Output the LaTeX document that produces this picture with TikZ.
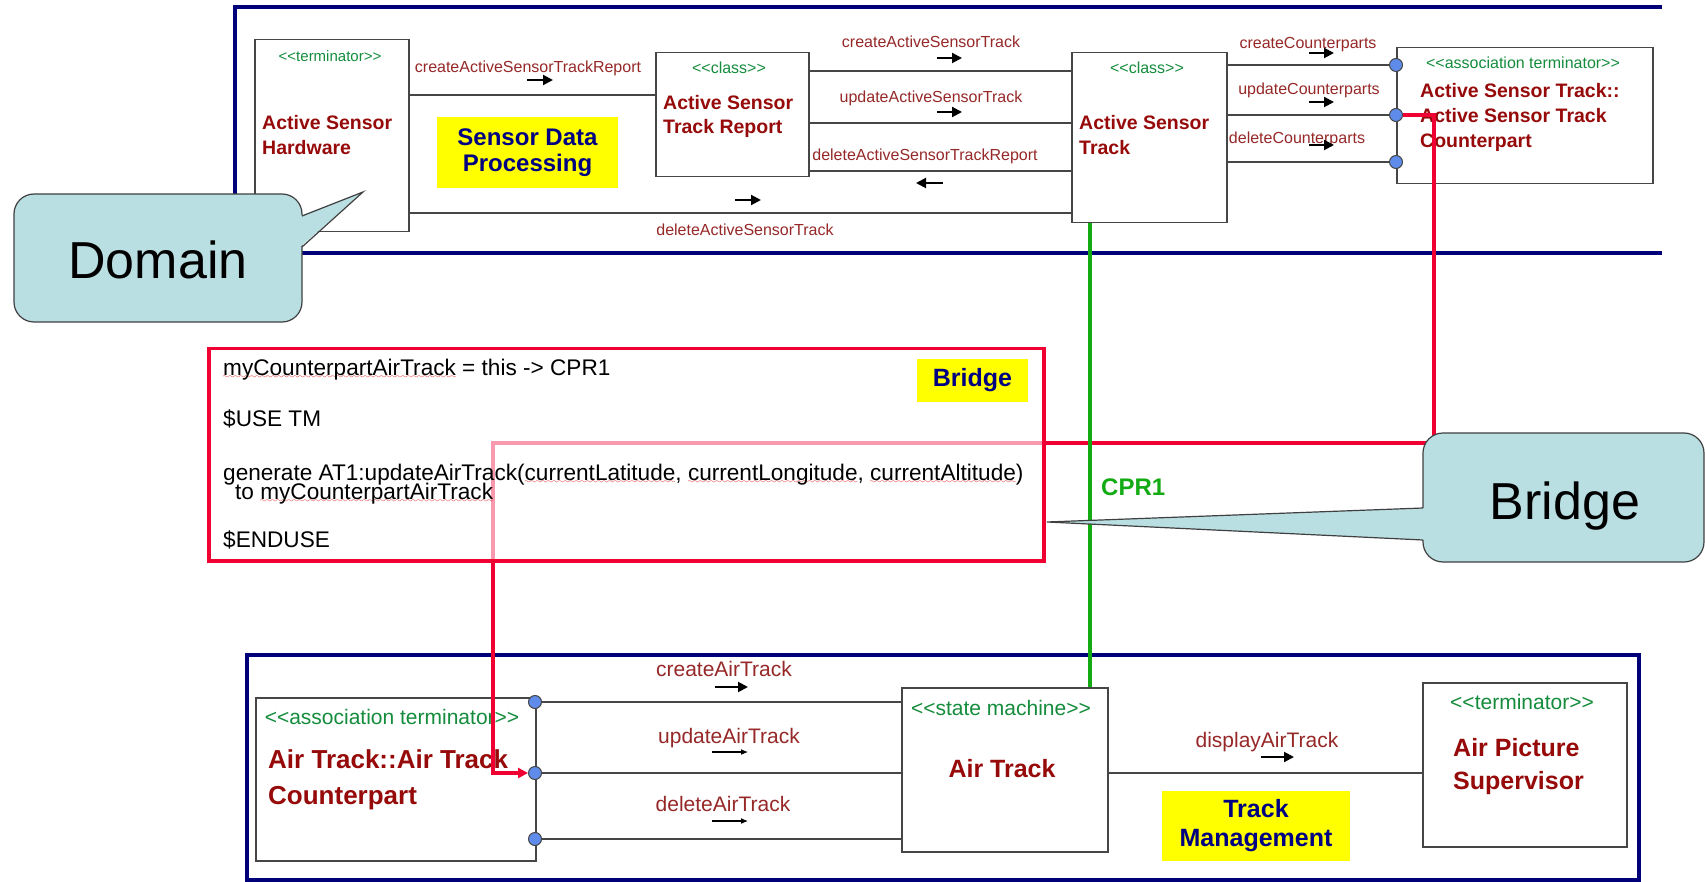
\documentclass[tikz,border=0pt]{standalone}
\usepackage{fontspec}
\setmainfont{Liberation Sans}
\usetikzlibrary{arrows.meta}

\definecolor{navyfr}{RGB}{0,0,120}
\definecolor{boxgray}{RGB}{70,70,70}
\definecolor{namered}{RGB}{150,10,10}
\definecolor{lblred}{RGB}{150,40,40}
\definecolor{stgreen}{RGB}{20,140,60}
\definecolor{portblue}{RGB}{95,140,235}
\definecolor{bridgered}{RGB}{240,0,50}
\definecolor{cprgreen}{RGB}{20,170,20}
\definecolor{callfill}{RGB}{185,223,227}
\definecolor{hilite}{RGB}{255,255,0}
\definecolor{hlnavy}{RGB}{0,0,130}
\definecolor{spellred}{RGB}{225,0,0}

\font\wavefont=lasy7
\newsavebox{\spellbox}
\newcommand{\spell}[1]{\sbox{\spellbox}{#1}\rlap{\lower3pt\hbox to \wd\spellbox{\color{spellred}\xleaders\hbox{\wavefont\char58}\hfil}}#1}
\newcommand{\stype}[1]{<\kern0pt<#1>\kern0pt>}

\begin{document}
\begin{tikzpicture}[x=1pt,y=-1pt]
\tikzstyle{clsbox}=[draw=boxgray,line width=1.5pt,fill=white,inner sep=0pt,anchor=north west]
\tikzstyle{port}=[draw=boxgray,line width=1pt,fill=portblue,circle,minimum size=13pt,inner sep=0pt]
\tikzstyle{conn}=[draw=boxgray,line width=1.5pt]
\tikzstyle{domframe}=[draw=navyfr,line width=3.5pt]
\tikzstyle{hltag}=[fill=hilite,text=hlnavy,font=\bfseries\fontsize{24}{26}\selectfont,align=center,inner sep=0pt]
\tikzstyle{ster}=[text=stgreen,inner sep=0pt,anchor=base,font=\fontsize{16}{19}\selectfont]
\tikzstyle{bigster}=[ster,font=\fontsize{21}{25}\selectfont]
\tikzstyle{clsname}=[text=namered,align=left,inner sep=0pt,anchor=north west,font=\bfseries\fontsize{19.5}{25}\selectfont]
\tikzstyle{bigclsname}=[clsname,font=\bfseries\fontsize{26}{36}\selectfont]
\tikzstyle{msg}=[text=lblred,inner sep=0pt,anchor=base,font=\fontsize{16}{19}\selectfont]
\tikzstyle{bigmsg}=[msg,font=\fontsize{21}{25}\selectfont]
\tikzstyle{msgarr}=[line width=2pt,-{Triangle[length=10pt,width=10pt]}]
\tikzstyle{thinarr}=[line width=1.1pt,-{Latex[length=7pt,width=6pt]}]
\tikzstyle{codeln}=[inner sep=0pt,anchor=base west,font=\fontsize{22.6}{26}\selectfont]
\tikzstyle{redln}=[draw=bridgered,line width=3.5pt]
\tikzstyle{callbox}=[draw=black!75,line width=1.2pt,fill=callfill]
\tikzstyle{calltxt}=[inner sep=0pt,anchor=base,font=\fontsize{52}{60}\selectfont]

\useasboundingbox[fill=white] (0,0) rectangle (1705,882);

% domain frames
\draw[domframe] (1662,7) -- (235,7) -- (235,253) -- (1662,253);
\draw[domframe] (247,655) rectangle (1639,880);

% yellow tags
\node[hltag,minimum width=181pt,minimum height=71pt] (sdp) at (527.5,152.5) {Sensor Data\\Processing};
\node[hltag,minimum width=188pt,minimum height=70pt,font=\bfseries\fontsize{25}{29}\selectfont] (tmg) at (1256,826) {Track\\Management};

% boxes
\node[clsbox,minimum width=154pt,minimum height=192pt] (hw) at (254,39) {};
\node[clsbox,minimum width=153pt,minimum height=124pt] (rep) at (655,52) {};
\node[clsbox,minimum width=155pt,minimum height=170pt] (trk) at (1071,52) {};
\node[clsbox,minimum width=256pt,minimum height=136pt] (cpt) at (1396,47) {};
\node[clsbox,minimum width=280pt,minimum height=163pt] (atc) at (255,697) {};
\node[clsbox,minimum width=206pt,minimum height=164pt] (air) at (901,687) {};
\node[clsbox,minimum width=204pt,minimum height=164pt] (sup) at (1422,682) {};

% ports
\node[port] (cp1) at (1396,65) {};
\node[port] (cp2) at (1396,115) {};
\node[port] (cp3) at (1396,162) {};
\node[port] (ap1) at (535,702) {};
\node[port] (ap2) at (535,773) {};
\node[port] (ap3) at (535,839) {};

% connectors
\draw[conn] (hw.east |- 0,95) -- (rep.west |- 0,95);
\draw[conn] (hw.east |- 0,213) -- (trk.west |- 0,213);
\draw[conn] (rep.east |- 0,71) -- (trk.west |- 0,71);
\draw[conn] (rep.east |- 0,123) -- (trk.west |- 0,123);
\draw[conn] (rep.east |- 0,171) -- (trk.west |- 0,171);
\foreach \i in {1,2,3}
  \draw[conn] (trk.east |- cp\i) -- (cp\i);
\foreach \i in {1,2,3}
  \draw[conn] (ap\i) -- (air.west |- ap\i);
\draw[conn] (air.east |- 0,773) -- (sup.west |- 0,773);

% class texts
\node[ster,font=\fontsize{15}{18}\selectfont] (hwst) at (330,62) {\stype{terminator}};
\node[clsname] (hwnm) at (262,115) {Active Sensor\\Hardware};
\node[ster] (repst) at (729,74) {\stype{class}};
\node[clsname,font=\bfseries\fontsize{19.5}{24}\selectfont] (repnm) at (663,95) {Active Sensor\\Track Report};
\node[ster] (trkst) at (1147,74) {\stype{class}};
\node[clsname] (trknm) at (1079,115) {Active Sensor\\Track};
\node[ster] (cptst) at (1523,69) {\stype{association terminator}};
\node[clsname] (cptnm) at (1420,83) {Active Sensor Track::\\Active Sensor Track\\Counterpart};
\node[bigster] (atcst) at (392,724) {\stype{association terminator}};
\node[bigclsname] (atcnm) at (268,749) {Air Track::Air Track\\Counterpart};
\node[bigster] (airst) at (1001,715) {\stype{state machine}};
\node[clsname,anchor=base,font=\bfseries\fontsize{25}{30}\selectfont] (airnm) at (1002,777) {Air Track};
\node[bigster] (supst) at (1522,709) {\stype{terminator}};
\node[bigclsname,font=\bfseries\fontsize{25}{33}\selectfont] (supnm) at (1453,738) {Air Picture\\Supervisor};

% messages
\node[msg] (m1) at (528,73) {createActiveSensorTrackReport};
\draw[msgarr] (527,80) -- (553,80);
\node[msg] (m2) at (931,48) {createActiveSensorTrack};
\draw[msgarr] (937,58) -- (962,58);
\node[msg] (m3) at (931,103) {updateActiveSensorTrack};
\draw[msgarr] (937,112) -- (962,112);
\node[msg] (m4) at (925,161) {deleteActiveSensorTrackReport};
\draw[msgarr] (943,183) -- (916,183);
\node[msg] (m5) at (745,236) {deleteActiveSensorTrack};
\draw[msgarr] (735,200) -- (761,200);
\node[msg] (m6) at (1308,49) {createCounterparts};
\draw[msgarr] (1309,53) -- (1334,53);
\node[msg] (m7) at (1309,95) {updateCounterparts};
\draw[msgarr] (1309,102) -- (1334,102);
\node[msg] (m8) at (1297,144) {deleteCounterparts};
\draw[msgarr] (1309,145) -- (1334,145);
\node[bigmsg] (m9) at (724,676) {createAirTrack};
\draw[msgarr] (715,687) -- (748,687);
\node[bigmsg] (m10) at (729,743) {updateAirTrack};
\draw[thinarr] (712,752) -- (748,752);
\node[bigmsg] (m11) at (723,811) {deleteAirTrack};
\draw[thinarr] (712,821) -- (748,821);
\node[bigmsg] (m12) at (1267,747) {displayAirTrack};
\draw[msgarr] (1261,757) -- (1294,757);

% bridge link
\coordinate (rb1) at (1434,443);
\coordinate (rb2) at (493,443);
\draw[redln,-{Triangle[length=10pt,width=10pt]}] (cp2.east) -| (rb1) -- (rb2) |- (ap2.west);

\node[draw=bridgered,line width=3.5pt,fill=white,fill opacity=.6,minimum width=835pt,minimum height=212pt,inner sep=0pt,anchor=north west] (brbox) at (207,347) {};
\node[hltag,minimum width=111pt,minimum height=43pt,font=\bfseries\fontsize{25}{29}\selectfont] (brg) at (972.5,380.5) {Bridge};
\node[codeln] (c1) at (223,376) {\spell{myCounterpartAirTrack} = this -> CPR1};
\node[codeln] (c2) at (223,426) {\$USE TM};
\node[codeln] (c3) at (223,480) {generate AT1:updateAirTrack(\spell{currentLatitude}, \spell{currentLongitude}, \spell{currentAltitude})};
\node[codeln] (c4) at (235,499) {to \spell{myCounterpartAirTrack}};
\node[codeln] (c5) at (223,547) {\$ENDUSE};

% counterpart relation
\coordinate (gx) at (1090,0);
\draw[draw=cprgreen,line width=3.5pt] (trk.south -| gx) -- (air.north -| gx);
\node[inner sep=0pt,anchor=base west,text=cprgreen,font=\bfseries\fontsize{24}{28}\selectfont] (cpr) at (1101,495) {CPR1};

% callouts
\draw[callbox,rounded corners=20pt] (14,194) rectangle (302,322);
\fill[callfill] (300,216) -- (363,192) -- (300,247) -- cycle;
\draw[draw=black!75,line width=1.2pt] (302,216) -- (363,192) -- (302,247);
\node[calltxt] (dom) at (158,279) {Domain};

\draw[callbox,rounded corners=20pt] (1423,433) rectangle (1704,562);
\fill[callfill] (1425,508) -- (1047,522) -- (1425,540) -- cycle;
\draw[draw=black!75,line width=1.2pt] (1423,508) -- (1047,522) -- (1423,540);
\node[calltxt] (brc) at (1565,519) {Bridge};
\end{tikzpicture}
\end{document}
